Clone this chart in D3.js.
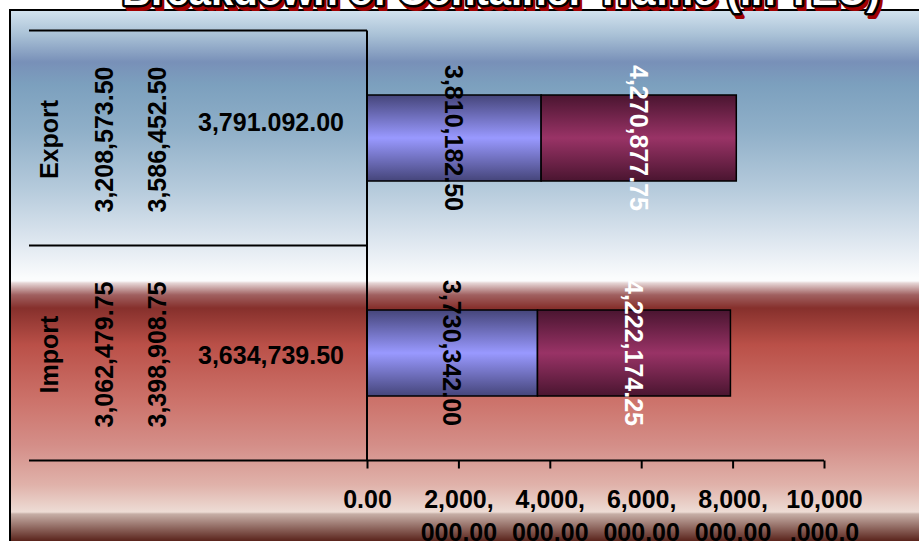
<!DOCTYPE html>
<html>
<head>
<meta charset="utf-8">
<script src="https://cdn.jsdelivr.net/npm/d3@7/dist/d3.min.js"></script>
<style>
  html, body { margin: 0; padding: 0; background: #ffffff; overflow: hidden; }
  svg { display: block; font-family: "Liberation Sans", Arial, sans-serif; }
</style>
</head>
<body>
<script>
// Container traffic per direction, two stacked series per bar
const categories = ["Export", "Import"];
const seriesA = [3810182.50, 3730342.00];
const seriesB = [4270877.75, 4222174.25];

// Side table columns, as printed
const tableCol1 = ["3,208,573.50", "3,062,479.75"];
const tableCol2 = ["3,586,452.50", "3,398,908.75"];
const tableCol3 = ["3,791.092.00", "3,634,739.50"];

// Value axis ticks and their wrapped labels
const tickValues = [0, 2000000, 4000000, 6000000, 8000000, 10000000];
const tickLabels = [
  ["0.00"],
  ["2,000,", "000.00"],
  ["4,000,", "000.00"],
  ["6,000,", "000.00"],
  ["8,000,", "000.00"],
  ["10,000", ",000.0"]
];

const titleText = "Breakdown of Container Traffic (in TEU)";

const W = 919, H = 541;
const svg = d3.select("body").append("svg").attr("width", W).attr("height", H);
const defs = svg.append("defs");

// Background of the chart frame: blue sky over a red band
const bg = defs.append("linearGradient").attr("id", "bgGrad")
  .attr("gradientUnits", "userSpaceOnUse")
  .attr("x1", 0).attr("y1", 11).attr("x2", 0).attr("y2", 541);
[
  [11, "#d2e2ee"], [35, "#a9c1d6"], [62, "#7890b8"], [85, "#7ca0be"],
  [130, "#8fafc8"], [190, "#b6cbdc"], [240, "#dde6ef"], [278, "#fbfcfd"],
  [281, "#fbfcfd"], [283, "#e6d6d6"], [295, "#a06060"], [308, "#86302c"],
  [345, "#ba5048"], [400, "#cc726a"], [445, "#d48e88"], [485, "#e0b2aa"],
  [512, "#eddcd5"], [514, "#c6aea6"], [541, "#5a241c"]
].forEach(([y, c]) => {
  bg.append("stop").attr("offset", ((y - 11) / 530).toFixed(4)).attr("stop-color", c);
});

function barGrad(id, edge, mid) {
  const g = defs.append("linearGradient").attr("id", id)
    .attr("x1", 0).attr("y1", 0).attr("x2", 0).attr("y2", 1);
  g.append("stop").attr("offset", 0).attr("stop-color", edge);
  g.append("stop").attr("offset", 0.5).attr("stop-color", mid);
  g.append("stop").attr("offset", 1).attr("stop-color", edge);
}
barGrad("gradA", "#45457a", "#9999ff");
barGrad("gradB", "#4a1530", "#993366");

// Frame
svg.append("rect")
  .attr("x", 10).attr("y", 10).attr("width", 990).attr("height", 560)
  .attr("fill", "url(#bgGrad)").attr("stroke", "#000").attr("stroke-width", 2);

// Scales
const x = d3.scaleLinear().domain([0, 10000000]).range([367, 824]);
const y = d3.scaleBand().domain(categories).range([30.5, 460.5])
  .paddingInner(0.6).paddingOuter(0.3);
const rowTop = i => y.range()[0] + i * (y.range()[1] - y.range()[0]) / categories.length;
const rowMid = c => y(c) + y.bandwidth() / 2;

// Table rules
const tableLeft = 29;
[0, 1, 2].forEach(i => {
  svg.append("line")
    .attr("x1", tableLeft).attr("x2", x(0))
    .attr("y1", rowTop(i)).attr("y2", rowTop(i))
    .attr("stroke", "#000").attr("stroke-width", 2);
});

// Bars
const fmt = d3.format(",.2f");
const stacks = categories.map((c, i) => ({
  cat: c,
  segs: [
    { x0: 0, x1: seriesA[i], v: seriesA[i], fill: "url(#gradA)", tc: "#000" },
    { x0: seriesA[i], x1: seriesA[i] + seriesB[i], v: seriesB[i], fill: "url(#gradB)", tc: "#fff" }
  ]
}));

const barG = svg.append("g");
stacks.forEach(s => {
  s.segs.forEach(seg => {
    barG.append("rect")
      .attr("x", x(seg.x0)).attr("y", y(s.cat))
      .attr("width", x(seg.x1) - x(seg.x0)).attr("height", y.bandwidth())
      .attr("fill", seg.fill).attr("stroke", "#000").attr("stroke-width", 1.5);
  });
});
stacks.forEach(s => {
  s.segs.forEach(seg => {
    const cx = (x(seg.x0) + x(seg.x1)) / 2, cy = rowMid(s.cat);
    barG.append("text")
      .attr("transform", `translate(${cx},${cy}) rotate(90)`)
      .attr("text-anchor", "middle").attr("dy", "0.35em")
      .attr("font-size", 25).attr("font-weight", "bold")
      .attr("fill", seg.tc).text(fmt(seg.v));
  });
});

// Side table text
const tbl = svg.append("g").attr("font-size", 25).attr("font-weight", "bold").attr("fill", "#000");
const col3Nudge = [-16, 2.5];
categories.forEach((c, i) => {
  const cy = rowMid(c) + 1.5;
  [[49, c], [104, tableCol1[i]], [157, tableCol2[i]]].forEach(([cx, t]) => {
    tbl.append("text")
      .attr("transform", `translate(${cx},${cy}) rotate(-90)`)
      .attr("text-anchor", "middle").attr("dy", "0.35em").text(t);
  });
  tbl.append("text")
    .attr("x", 271).attr("y", rowMid(c) + col3Nudge[i])
    .attr("text-anchor", "middle").attr("dy", "0.35em").text(tableCol3[i]);
});

// Category axis line
svg.append("line")
  .attr("x1", x(0)).attr("x2", x(0))
  .attr("y1", y.range()[0]).attr("y2", y.range()[1])
  .attr("stroke", "#000").attr("stroke-width", 2);

// Value axis
const axis = d3.axisBottom(x).tickValues(tickValues).tickSize(8).tickFormat("");
const axG = svg.append("g").attr("transform", `translate(0,${y.range()[1]})`).call(axis);
axG.select(".domain").attr("stroke", "#000").attr("stroke-width", 2).attr("d", `M${x(0)},0H${x(10000000)}`);
axG.selectAll(".tick line").attr("stroke", "#000").attr("stroke-width", 2);
axG.selectAll(".tick").each(function(d, i) {
  const t = d3.select(this).select("text")
    .attr("y", 0).attr("dy", null)
    .attr("font-size", 25).attr("font-weight", "bold").attr("fill", "#000")
    .attr("font-family", "Liberation Sans, Arial, sans-serif");
  tickLabels[i].forEach((line, k) => {
    t.append("tspan").attr("x", 0).attr("y", 47 + k * 33).text(line);
  });
});

// Title: white face, black outline, dark red extrusion
const tg = svg.append("g").attr("font-size", 40).attr("font-weight", "bold").attr("text-anchor", "middle");
tg.append("text").attr("x", 504).attr("y", 9).text(titleText)
  .attr("fill", "#a00000").attr("stroke", "#a00000").attr("stroke-width", 4).attr("stroke-linejoin", "round");
tg.append("text").attr("x", 501).attr("y", 5).text(titleText)
  .attr("fill", "#ffffff").attr("stroke", "#000").attr("stroke-width", 5).attr("stroke-linejoin", "round")
  .attr("paint-order", "stroke");
</script>
</body>
</html>
